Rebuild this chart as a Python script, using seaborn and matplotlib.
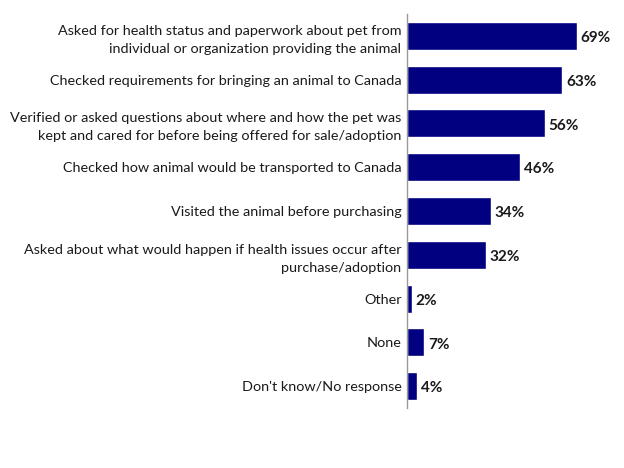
import matplotlib
matplotlib.use("Agg")
import matplotlib.pyplot as plt
import seaborn as sns
import pandas as pd

# Ответы и доли
LABELS = [
    "Asked for health status and paperwork about pet from\nindividual or organization providing the animal",
    "Checked requirements for bringing an animal to Canada",
    "Verified or asked questions about where and how the pet was\nkept and cared for before being offered for sale/adoption",
    "Checked how animal would be transported to Canada",
    "Visited the animal before purchasing",
    "Asked about what would happen if health issues occur after\npurchase/adoption",
    "Other",
    "None",
    "Don't know/No response",
]
VALUES = [69, 63, 56, 46, 34, 32, 2, 7, 4]

df = pd.DataFrame({"label": LABELS, "value": VALUES})

sns.set_theme(style="white")
plt.rcParams["font.family"] = ["Lato", "DejaVu Sans"]

fig = plt.figure(figsize=(6.24, 4.68), dpi=100)
ax = fig.add_axes([407 / 624, 1 - 408 / 468, 0.32, 394 / 468])

sns.barplot(data=df, x="value", y="label", color="#000080", saturation=1,
            width=0.64, ax=ax)

for i, v in enumerate(VALUES):
    ax.text(v + 1.5, i + 0.05, f"{v}%", va="center", ha="left",
            fontsize=11, fontweight="bold", color="#1a1a1a")

ax.set_xlim(0, 81)
ax.set_ylim(8.5, -0.5)
ax.set_xlabel("")
ax.set_ylabel("")
ax.set_xticks([])
ax.tick_params(axis="y", length=0, pad=4, labelsize=10.4, colors="#1a1a1a")
for lab in ax.get_yticklabels():
    lab.set_horizontalalignment("right")
    lab.set_multialignment("right")
    lab.set_linespacing(1.6)
for side in ["top", "right", "bottom"]:
    ax.spines[side].set_visible(False)
ax.spines["left"].set_color("#999999")
ax.spines["left"].set_linewidth(1)

fig.savefig("out.png", dpi=100)
